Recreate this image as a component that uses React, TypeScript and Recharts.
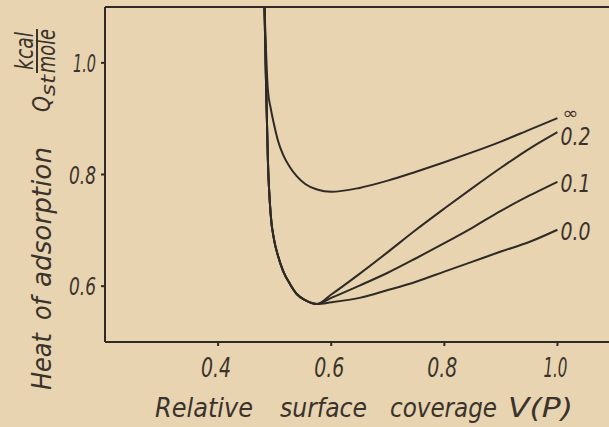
import React from "react";
import { LineChart, Line, XAxis, YAxis, ReferenceLine, Customized } from "recharts";

// Relative surface coverage V(P)
const coverage = [0.482, 0.485, 0.488, 0.493, 0.499, 0.506, 0.515, 0.527, 0.539, 0.554, 0.575, 0.6, 0.65, 0.7, 0.75, 0.8, 0.85, 0.9, 0.95, 1.0];

// Heat of adsorption Qst (kcal/mole) per curve parameter
const qInf = [1.1, 1.014, 0.951, 0.919, 0.889, 0.86, 0.835, 0.813, 0.797, 0.783, 0.773, 0.769, 0.776, 0.789, 0.805, 0.822, 0.84, 0.859, 0.88, 0.901];
const q02 = [1.1, 0.951, 0.826, 0.728, 0.683, 0.654, 0.627, 0.604, 0.586, 0.575, 0.568, 0.585, 0.622, 0.661, 0.701, 0.739, 0.776, 0.812, 0.846, 0.876];
const q01 = [1.1, 0.951, 0.826, 0.728, 0.683, 0.654, 0.627, 0.604, 0.586, 0.575, 0.568, 0.579, 0.601, 0.624, 0.65, 0.677, 0.705, 0.735, 0.762, 0.787];
const q00 = [1.1, 0.951, 0.826, 0.728, 0.683, 0.654, 0.627, 0.604, 0.586, 0.575, 0.568, 0.571, 0.579, 0.593, 0.608, 0.626, 0.644, 0.662, 0.679, 0.701];

const seriesLabels = { qInf: "∞", q02: "0.2", q01: "0.1", q00: "0.0" };

const xTicks = [0.4, 0.6, 0.8, 1.0];
const yTicks = [0.6, 0.8, 1.0];

const data = coverage.map((x, i) => ({ x, qInf: qInf[i], q02: q02[i], q01: q01[i], q00: q00[i] }));

const INK = "#2f2a25";
const TEXT = "#3a332c";
const FONT = "'DejaVu Sans', sans-serif";

const XTick = (props: any) => {
  const { x, y, payload } = props;
  const label = Number(payload.value).toFixed(1);
  return (
    <text x={x - 2} y={y + 29} textAnchor="middle" fontFamily={FONT} fontStyle="italic" fontSize={26}
      fill={TEXT} textLength={label.startsWith("1") ? 24 : 30} lengthAdjust="spacingAndGlyphs">
      {label}
    </text>
  );
};

const YTick = (props: any) => {
  const { x, y, payload } = props;
  const label = Number(payload.value).toFixed(1);
  return (
    <text x={x - 3} y={y + 9} textAnchor="end" fontFamily={FONT} fontStyle="italic" fontSize={25}
      fill={TEXT} textLength={label.startsWith("1") ? 23 : 27} lengthAdjust="spacingAndGlyphs">
      {label}
    </text>
  );
};

const endLabel = (key: keyof typeof seriesLabels) => (props: any) => {
  const { x, y, index } = props;
  if (index !== coverage.length - 1) return <g />;
  const txt = seriesLabels[key];
  if (key === "qInf") {
    return (
      <text x={x + 5} y={y + 1} fontFamily={FONT} fontSize={17} fill={TEXT} textLength={16} lengthAdjust="spacingAndGlyphs">
        {txt}
      </text>
    );
  }
  return (
    <text x={x + 3} y={y + (key === "q02" ? 13 : 10)} fontFamily={FONT} fontStyle="italic" fontSize={25}
      fill={TEXT} textLength={30} lengthAdjust="spacingAndGlyphs">
      {txt}
    </text>
  );
};

const Titles = () => {
  const t = { fontFamily: FONT, fontStyle: "italic" as const, fill: TEXT };
  return (
    <g>
      <text x={155} y={417} fontSize={26} {...t} textLength={98} lengthAdjust="spacingAndGlyphs">Relative</text>
      <text x={280} y={417} fontSize={26} {...t} textLength={87} lengthAdjust="spacingAndGlyphs">surface</text>
      <text x={390} y={417} fontSize={26} {...t} textLength={107} lengthAdjust="spacingAndGlyphs">coverage</text>
      <text x={508} y={417} fontSize={26} {...t} textLength={65} lengthAdjust="spacingAndGlyphs">V(P)</text>

      <text transform="translate(51,390) rotate(-90)" fontSize={26} {...t} textLength={57} lengthAdjust="spacingAndGlyphs">Heat</text>
      <text transform="translate(51,320) rotate(-90)" fontSize={26} {...t} textLength={23} lengthAdjust="spacingAndGlyphs">of</text>
      <text transform="translate(51,287) rotate(-90)" fontSize={26} {...t} textLength={140} lengthAdjust="spacingAndGlyphs">adsorption</text>
      <text transform="translate(50,112) rotate(-90)" fontSize={25} {...t} textLength={16} lengthAdjust="spacingAndGlyphs">Q</text>
      <text transform="translate(55,96) rotate(-90)" fontSize={20} {...t} textLength={21} lengthAdjust="spacingAndGlyphs">st</text>
      <text transform="translate(33,51) rotate(-90)" textAnchor="middle" fontSize={24} {...t} textLength={38} lengthAdjust="spacingAndGlyphs">kcal</text>
      <line x1={37} y1={29} x2={37} y2={73} stroke={TEXT} strokeWidth={2} />
      <text transform="translate(55,51) rotate(-90)" textAnchor="middle" fontSize={24} {...t} textLength={44} lengthAdjust="spacingAndGlyphs">mole</text>
    </g>
  );
};

export default function App() {
  return (
    <div style={{ position: "absolute", left: 0, top: 0, width: 609, height: 427, overflow: "hidden", background: "#e8d4b0" }}>
      <LineChart width={640} height={427} data={data} margin={{ top: 7, right: 26, bottom: 0, left: 55 }}>
        <XAxis dataKey="x" type="number" domain={[0.2, 1.1]} ticks={xTicks} allowDataOverflow
          height={85} axisLine={{ stroke: INK, strokeWidth: 2 }} tickLine={{ stroke: INK, strokeWidth: 2 }} tickSize={4}
          tick={<XTick />} interval={0} />
        <YAxis type="number" domain={[0.5, 1.1]} ticks={yTicks} allowDataOverflow width={50}
          axisLine={{ stroke: INK, strokeWidth: 2 }} tickLine={{ stroke: INK, strokeWidth: 2 }} tickSize={4}
          tick={<YTick />} interval={0} />
        <ReferenceLine y={1.1} stroke={INK} strokeWidth={2} />
        <Line dataKey="q00" type="monotone" stroke={INK} strokeWidth={2} dot={false} isAnimationActive={false} label={endLabel("q00")} />
        <Line dataKey="q01" type="monotone" stroke={INK} strokeWidth={2} dot={false} isAnimationActive={false} label={endLabel("q01")} />
        <Line dataKey="q02" type="monotone" stroke={INK} strokeWidth={2} dot={false} isAnimationActive={false} label={endLabel("q02")} />
        <Line dataKey="qInf" type="monotone" stroke={INK} strokeWidth={2} dot={false} isAnimationActive={false} label={endLabel("qInf")} />
        <Customized component={Titles} />
      </LineChart>
    </div>
  );
}
